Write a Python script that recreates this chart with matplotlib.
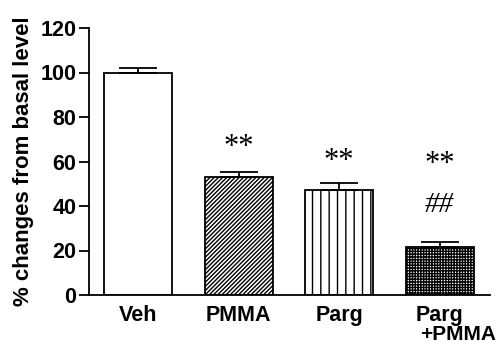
import matplotlib
matplotlib.use("Agg")
import matplotlib.pyplot as plt
import matplotlib.transforms as mtransforms

groups = ["Veh", "PMMA", "Parg", "Parg"]
means = [100.0, 53.2, 47.0, 21.4]
sems = [1.8, 1.9, 3.5, 2.6]
hatches = ["", "////////", "||", "++++++"]
stars = ["", "**", "**", "**"]
star_y = [0, 66.5, 60.0, 58.5]
hash_mark = "##"
hash_y = 40.5

plt.rcParams["font.family"] = ["Liberation Sans", "DejaVu Sans"]
plt.rcParams["hatch.linewidth"] = 1.0

fig = plt.figure(figsize=(4.99, 3.45), dpi=100)
ax = fig.add_axes([89 / 499, 1 - 295 / 345, (490 - 89) / 499, (295 - 28) / 345])

x = list(range(len(groups)))
ax.bar(x, means, width=0.68, color="white", edgecolor="black",
       linewidth=1.3, hatch=hatches, zorder=2)
ax.errorbar(x, means, yerr=[[0] * len(sems), sems], fmt="none",
            ecolor="black", elinewidth=1.3, capsize=14, capthick=1.3, zorder=3)

for xi, s, sy in zip(x, stars, star_y):
    if s:
        ax.text(xi, sy, s, ha="center", va="center", fontsize=22,
                family="Liberation Serif")
ax.text(3, hash_y, hash_mark, ha="center", va="center", fontsize=21,
        family="Liberation Serif", style="italic")

ax.set_xlim(-0.49, 3.5)
ax.set_ylim(0, 120)
ax.set_yticks(range(0, 121, 20))
ax.set_xticks(x)
ax.set_xticklabels(groups, fontsize=15.5, fontweight="bold")
ax.tick_params(axis="x", length=0, pad=7)
ax.tick_params(axis="y", length=7, width=1.3, labelsize=15.5, pad=2)
for lbl in ax.get_yticklabels():
    lbl.set_fontweight("bold")

# second line of the last group label, shifted right
trans = mtransforms.blended_transform_factory(ax.transData, fig.transFigure)
ax.text(2.8, 1 - 340 / 345, "+PMMA", transform=trans, ha="left",
        va="baseline", fontsize=15, fontweight="bold", clip_on=False)

ax.set_ylabel("% changes from basal level", fontsize=16,
              fontweight="bold", labelpad=5)

for side in ["top", "right"]:
    ax.spines[side].set_visible(False)
for side in ["left", "bottom"]:
    ax.spines[side].set_linewidth(1.3)

fig.savefig("out.png", dpi=100)
